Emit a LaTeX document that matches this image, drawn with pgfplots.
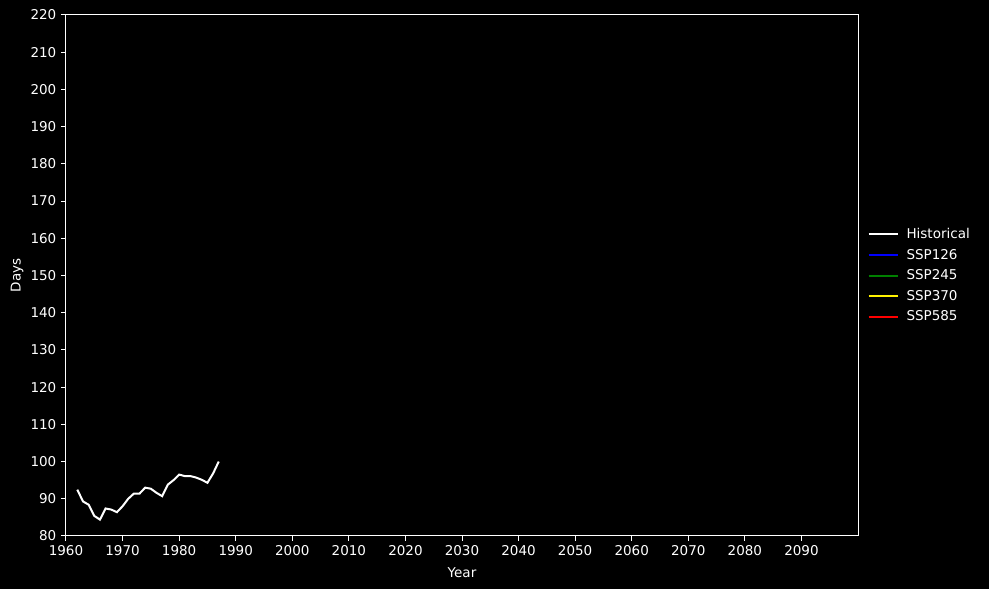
\documentclass[border=0pt]{standalone}
\usepackage{pgfplots}
\pgfplotsset{compat=1.18}
\usepackage{fontspec}
\setmainfont{DejaVu Sans}
\definecolor{mgreen}{RGB}{0,128,0}
\begin{document}
\fontsize{13.5}{16}\selectfont
\begin{tikzpicture}
\fill[black] (-66pt,-53pt) rectangle (923pt,536pt);
\begin{axis}[
  at={(0pt,0pt)}, anchor=south west,
  scale only axis, width=792pt, height=521pt,
  xmin=1960, xmax=2100, ymin=80, ymax=220,
  xtick={1960,1970,...,2090}, ytick={80,90,...,220},
  /pgf/number format/assume math mode=true,
  /pgf/number format/1000 sep={},
  tick label style={white, font=\fontsize{13.5}{16}\selectfont},
  label style={white, font=\fontsize{13.5}{16}\selectfont},
  xlabel={Year}, ylabel={Days},
  xlabel style={yshift=-3pt},
  ylabel style={yshift=-2pt},
  axis line style={white, line width=1pt},
  tick style={white, line width=1pt},
  tick align=outside, major tick length=5pt,
  xtick pos=bottom, ytick pos=left,
  axis background/.style={fill=black},
  legend style={at={(1.008,0.5)}, anchor=west, draw=none, fill=black,
    text=white, font=\fontsize{13.5}{16}\selectfont, row sep=4.5pt,
    nodes={inner xsep=8pt}},
  legend cell align=left,
  legend image code/.code={\draw[#1, line width=2pt] (0pt,0pt) -- (29pt,0pt);},
]
\addplot[white, line width=2pt, mark=none] coordinates {
(1962,92.45) (1963,89.3) (1964,88.4) (1965,85.4) (1966,84.4) (1967,87.4)
(1968,87.1) (1969,86.4) (1970,88.0) (1971,90.0) (1972,91.4) (1973,91.4)
(1974,93.0) (1975,92.7) (1976,91.6) (1977,90.7) (1978,93.8) (1979,95.0)
(1980,96.5) (1981,96.1) (1982,96.1) (1983,95.7) (1984,95.1) (1985,94.3)
(1986,96.8) (1987,100.0)
};
\addlegendentry{Historical}
\addlegendimage{blue, line width=2pt}
\addlegendentry{SSP126}
\addlegendimage{mgreen, line width=2pt}
\addlegendentry{SSP245}
\addlegendimage{yellow, line width=2pt}
\addlegendentry{SSP370}
\addlegendimage{red, line width=2pt}
\addlegendentry{SSP585}
\end{axis}
\end{tikzpicture}
\end{document}
